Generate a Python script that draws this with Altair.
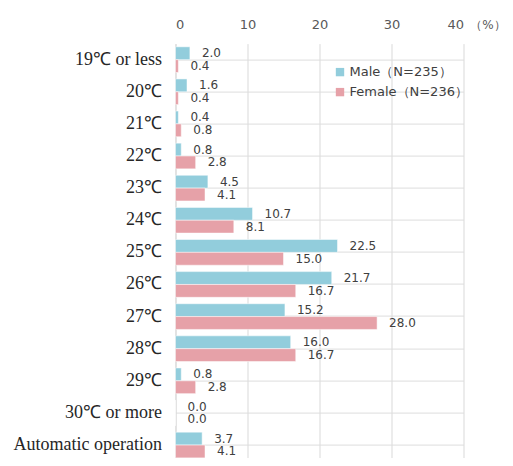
import altair as alt
import pandas as pd

categories = ["19℃ or less", "20℃", "21℃", "22℃", "23℃", "24℃", "25℃", "26℃",
              "27℃", "28℃", "29℃", "30℃ or more", "Automatic operation"]
male = [2.0, 1.6, 0.4, 0.8, 4.5, 10.7, 22.5, 21.7, 15.2, 16.0, 0.8, 0.0, 3.7]
female = [0.4, 0.4, 0.8, 2.8, 4.1, 8.1, 15.0, 16.7, 28.0, 16.7, 2.8, 0.0, 4.1]
series = ["Male（N=235）", "Female（N=236）"]
colors = ["#92CDDC", "#E6A1A8"]

rows = []
for i, c in enumerate(categories):
    rows.append({"cat": c, "series": series[0], "order": 0, "value": male[i], "label": f"{male[i]:.1f}"})
    rows.append({"cat": c, "series": series[1], "order": 1, "value": female[i], "label": f"{female[i]:.1f}"})
df = pd.DataFrame(rows)

y_enc = alt.Y("cat:N", sort=categories,
              scale=alt.Scale(paddingInner=0.2, paddingOuter=0.1),
              axis=alt.Axis(title=None, labelFont="Liberation Serif, Tinos, Times New Roman, serif",
                            labelFontSize=18, labelColor="#262626", ticks=False,
                            domainColor="#d9d9d9", labelPadding=14, labelLimit=0))
yoff = alt.YOffset("order:O", scale=alt.Scale(paddingInner=0, paddingOuter=0))

x_enc = alt.X("value:Q", scale=alt.Scale(domain=[0, 40]),
              axis=alt.Axis(orient="top", values=[0, 10, 20, 30, 40], title="（%）",
                            titleFont="DejaVu Sans", titleFontSize=12, titleFontWeight="normal",
                            titleColor="#595959", titleX=312, titleY=-19, titleAlign="center",
                            titleBaseline="middle",
                            labelFont="DejaVu Sans", labelFontSize=13, labelColor="#595959",
                            ticks=False, domain=False, gridColor="#d9d9d9", labelPadding=12))

bars = alt.Chart(df).mark_bar(stroke="white", strokeWidth=0.5).encode(
    x=x_enc, y=y_enc, yOffset=yoff,
    color=alt.Color("series:N", sort=series,
                    scale=alt.Scale(domain=series, range=colors),
                    legend=alt.Legend(title=None, orient="none", legendX=158, legendY=22,
                                      symbolType="square", symbolSize=70, symbolStrokeWidth=0,
                                      labelFont="DejaVu Sans", labelFontSize=13,
                                      labelColor="#404040", rowPadding=6, labelOffset=3)),
)

labels = alt.Chart(df).mark_text(align="left", baseline="middle", dx=12,
                                 font="DejaVu Sans", fontSize=12, color="#404040").encode(
    x="value:Q", y=alt.Y("cat:N", sort=categories), yOffset=yoff, text="label:N")

chart = alt.layer(bars, labels).properties(
    width=288, height=417.5,
    autosize=alt.AutoSizeParams(type="none"),
    padding={"left": 167.5, "top": 35.6, "right": 41, "bottom": -3.1}
).configure_view(stroke=None).configure_axis(grid=True)

chart.save("out.html", embed_options={"renderer": "svg", "actions": False})
